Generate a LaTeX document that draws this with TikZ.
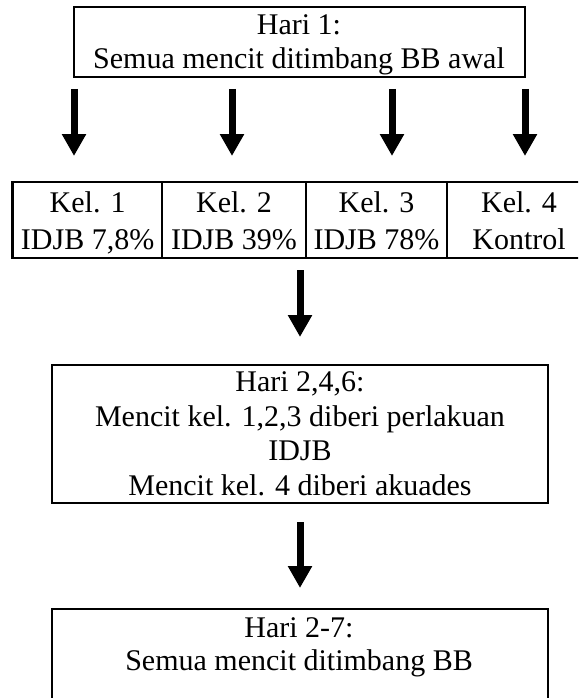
\documentclass[tikz,border=0pt]{standalone}
\usepackage{fontspec}
\setmainfont{Liberation Serif}
\usetikzlibrary{arrows.meta}
\begin{document}
\begin{tikzpicture}[x=1pt,y=-1pt,
  box/.style={draw, line width=#1, rectangle, inner sep=0pt, outer sep=0pt},
  box/.default=2.7pt,
  txt/.style={anchor=base, inner sep=0pt, font=\fontsize{30}{34}\selectfont},
  bigarrow/.style={line width=7pt, -{Triangle[width=23pt,length=22pt]}}]
\useasboundingbox (0,0) rectangle (578,698);
\clip (0,0) rectangle (578,698);
% top box
\node[box=2pt, minimum width=451pt, minimum height=70pt] (top) at (299.5,42) {};
\node[txt] (top1) at (299,35) {Hari 1:};
\node[txt] (top2) at (299,69) {Semua mencit ditimbang BB awal};
% group cells
\node[box, minimum width=149.3pt, minimum height=76pt] (g1) at (87.35,220) {};
\node[box, minimum width=144pt, minimum height=76pt] (g2) at (234,220) {};
\node[box, minimum width=141pt, minimum height=76pt] (g3) at (376.5,220) {};
\node[box, minimum width=144pt, minimum height=76pt] (g4) at (519,220) {};
\node[txt] (g1a) at (87.6,212) {Kel. 1};
\node[txt] (g1b) at (87.6,249.5) {IDJB 7,8\%};
\node[txt] (g2a) at (234,212) {Kel. 2};
\node[txt] (g2b) at (234,249.5) {IDJB 39\%};
\node[txt] (g3a) at (376.5,212) {Kel. 3};
\node[txt] (g3b) at (376.5,249.5) {IDJB 78\%};
\node[txt] (g4a) at (519,212) {Kel. 4};
\node[txt] (g4b) at (519,249.5) {Kontrol};
% middle box
\node[box, minimum width=496pt, minimum height=138pt] (mid) at (300,434) {};
\node[txt] (m1) at (300,391.7) {Hari 2,4,6:};
\node[txt] (m2) at (300,426) {Mencit kel. 1,2,3 diberi perlakuan};
\node[txt] (m3) at (300,460) {IDJB};
\node[txt] (m4) at (300,495) {Mencit kel. 4 diberi akuades};
% bottom box
\node[box, minimum width=496pt, minimum height=121pt] (bot) at (300,669.5) {};
\node[txt] (b1) at (299,637) {Hari 2-7:};
\node[txt] (b2) at (299,670) {Semua mencit ditimbang BB};
% arrows
\coordinate (c1) at (74,0);
\coordinate (c2) at (232,0);
\coordinate (c3) at (392,0);
\coordinate (c4) at (525,0);
\draw[bigarrow, shorten <=12pt, shorten >=26pt] (c1 |- top.south) -- (c1 |- g1.north);
\draw[bigarrow, shorten <=12pt, shorten >=26pt] (c2 |- top.south) -- (c2 |- g2.north);
\draw[bigarrow, shorten <=12pt, shorten >=26pt] (c3 |- top.south) -- (c3 |- g3.north);
\draw[bigarrow, shorten <=12pt, shorten >=26pt] (c4 |- top.south) -- (c4 |- g4.north);
\draw[bigarrow, shorten <=12pt, shorten >=28pt] (mid.north |- g3.south) -- (mid.north);
\draw[bigarrow, shorten <=19pt, shorten >=21pt] (mid.south) -- (bot.north);
\end{tikzpicture}
\end{document}
